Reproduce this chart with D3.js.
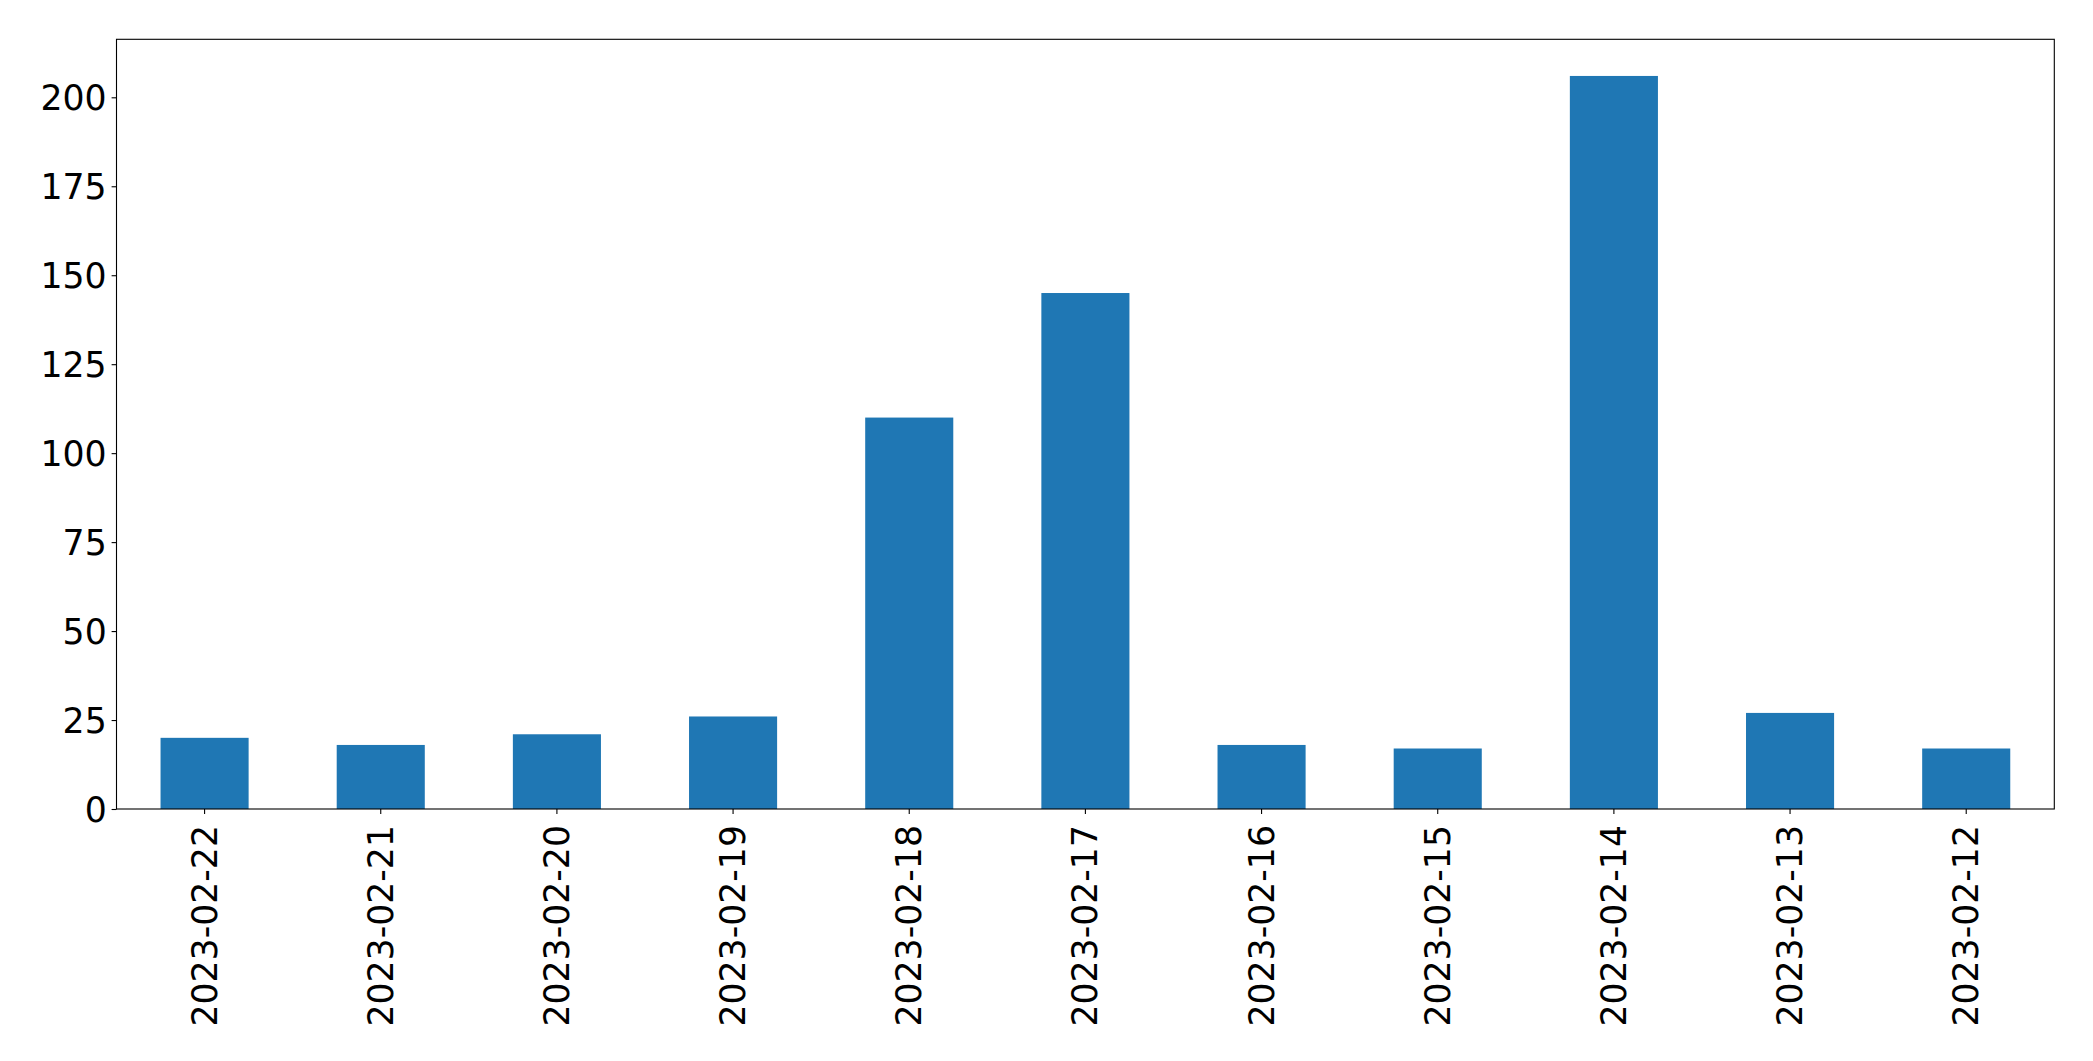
<!DOCTYPE html>
<html>
<head>
<meta charset="utf-8">
<script src="https://cdn.jsdelivr.net/npm/d3@7"></script>
<style>
html,body{margin:0;padding:0;background:#fff;}
svg{display:block;}
text{font-family:"DejaVu Sans",sans-serif;fill:#000;}
</style>
</head>
<body>
<svg id="chart" width="2093" height="1061"></svg>
<script>
const categories = ["2023-02-22","2023-02-21","2023-02-20","2023-02-19","2023-02-18","2023-02-17","2023-02-16","2023-02-15","2023-02-14","2023-02-13","2023-02-12"];
const values = [20,18,21,26,110,145,18,17,206,27,17];
const yTicks = [0,25,50,75,100,125,150,175,200];

(function () {
const mLeft = 116.5, mRight = 2054.3, mTop = 39.3, mBottom = 809;
const svg = d3.select("#chart");

const x = d3.scaleBand().domain(categories).range([mLeft, mRight]).paddingInner(0.5).paddingOuter(0.25);
const y = d3.scaleLinear().domain([0, d3.max(values) * 1.05]).range([mBottom, mTop]);

svg.append("g").selectAll("rect").data(categories).join("rect")
  .attr("x", d => x(d))
  .attr("width", x.bandwidth())
  .attr("y", (d, i) => y(values[i]))
  .attr("height", (d, i) => mBottom - y(values[i]))
  .attr("fill", "#1f77b4");

// frame
svg.append("rect").attr("x", mLeft).attr("y", mTop).attr("width", mRight - mLeft).attr("height", mBottom - mTop)
  .attr("fill", "none").attr("stroke", "#000").attr("stroke-width", 1.1);

const fs = 34.7;
// y axis
const yAxis = d3.axisLeft(y).tickValues(yTicks).tickSize(4.9).tickPadding(4.9).tickFormat(d3.format("d"));
const gy = svg.append("g").attr("transform", `translate(${mLeft},0)`).call(yAxis);
gy.select(".domain").remove();
gy.selectAll(".tick line").attr("stroke", "#000").attr("stroke-width", 1.1);
gy.selectAll(".tick text").attr("font-size", fs).attr("font-family", "DejaVu Sans").attr("fill", "#000").attr("dy", "0.36em");

// x axis
const xAxis = d3.axisBottom(x).tickSize(4.9).tickPadding(0);
const gx = svg.append("g").attr("transform", `translate(0,${mBottom})`).call(xAxis);
gx.select(".domain").remove();
gx.selectAll(".tick line").attr("stroke", "#000").attr("stroke-width", 1.1);
gx.selectAll(".tick text")
  .attr("font-size", fs).attr("font-family", "DejaVu Sans").attr("fill", "#000")
  .attr("text-anchor", "end")
  .attr("dy", null).attr("y", null)
  .attr("transform", "translate(0,16) rotate(-90)")
  .attr("dominant-baseline", "central");
})();
</script>
</body>
</html>
